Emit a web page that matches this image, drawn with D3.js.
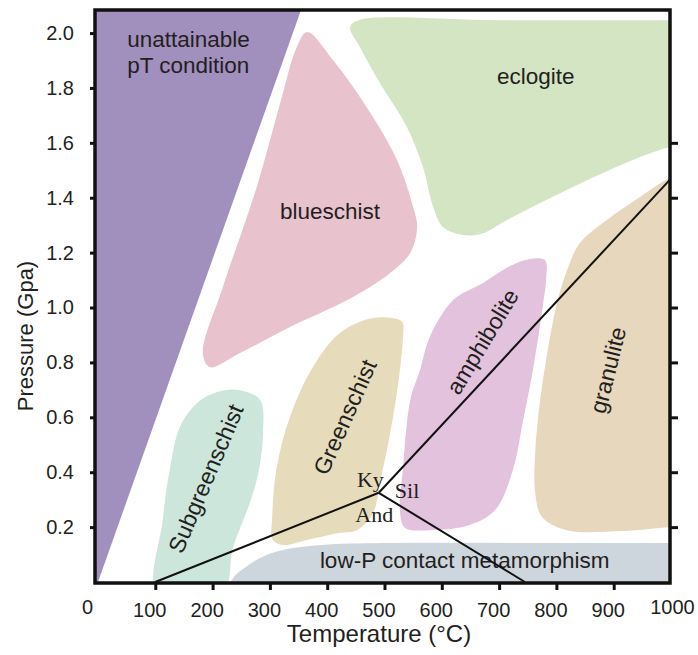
<!DOCTYPE html>
<html>
<head>
<meta charset="utf-8">
<script src="https://cdn.jsdelivr.net/npm/d3@7"></script>
<style>
  body { margin: 0; background: #fff; }
  svg { display: block; font-family: "Liberation Sans", Arial, sans-serif; }
</style>
</head>
<body>
<svg id="chart" width="698" height="655"></svg>
<script>
// axis ticks
const tempTicks = [0, 100, 200, 300, 400, 500, 600, 700, 800, 900, 1000]
const pressureTicks = [0.2, 0.4, 0.6, 0.8, 1.0, 1.2, 1.4, 1.6, 1.8, 2.0]
const rightTicks = [0.2, 0.4, 0.6, 0.8, 1.0, 1.2, 1.4, 1.6]

// facies fields as [T (°C), P (GPa)] outlines
const unattainable = [[-20, -0.1], [-20, 2.3], [374, 2.2], [0, 0]]
const blueschist = [[365, 2.004], [410, 1.902], [469, 1.73], [522, 1.537], [550, 1.366], [557, 1.293],
  [545, 1.199], [510, 1.126], [435, 1.027], [335, 0.929], [248, 0.834], [195, 0.783], [183, 0.834],
  [218, 1.075], [277, 1.439], [318, 1.745], [347, 1.949]]
const eclogite = [[440, 2.022], [455, 2.047], [700, 2.047], [1000, 2.047], [1040, 2.047], [1040, 1.585],
  [1000, 1.585], [946, 1.548], [829, 1.439], [714, 1.319], [672, 1.271], [637, 1.264], [602, 1.293],
  [585, 1.366], [567, 1.512], [539, 1.658], [492, 1.818], [457, 1.949]]
const subgreenschist = [[248, 0.699], [283, 0.663], [288, 0.543], [280, 0.4], [265, 0.288], [236, 0.128],
  [216, -0.05], [103, -0.05], [113, 0.226], [126, 0.419], [143, 0.565], [173, 0.652], [208, 0.692]]
const greenschist = [[527, 0.954], [480, 0.962], [422, 0.907], [375, 0.783], [335, 0.601], [312, 0.419],
  [304, 0.237], [305, 0.153], [323, 0.135], [365, 0.153], [422, 0.179], [452, 0.189], [480, 0.251],
  [492, 0.361], [510, 0.543], [524, 0.725], [532, 0.882], [532, 0.944]]
const amphibolite = [[780, 1.173], [782, 1.1], [777, 1.016], [759, 0.772], [742, 0.59], [724, 0.408],
  [693, 0.262], [649, 0.208], [579, 0.189], [536, 0.197], [527, 0.255], [532, 0.408], [545, 0.663],
  [562, 0.772], [579, 0.893], [620, 1.027], [672, 1.089], [719, 1.151], [754, 1.177]]
const granulite = [[1000, 1.472], [946, 1.403], [888, 1.319], [841, 1.235], [820, 1.144], [801, 1.016],
  [784, 0.834], [771, 0.652], [763, 0.47], [763, 0.324], [775, 0.237], [818, 0.189], [916, 0.186],
  [1000, 0.2], [1040, 0.2], [1040, 1.48]]
const contact = [[225, -0.05], [236, 0.015], [258, 0.055], [290, 0.095], [330, 0.12], [390, 0.135],
  [500, 0.142], [800, 0.142], [900, 0.142], [1000, 0.142], [1040, 0.142], [1040, -0.05]]

// Al2SiO5 reaction lines
const kyAnd = [[100, 0], [490, 0.325]]
const kySil = [[490, 0.325], [1000, 1.47]]
const andSil = [[490, 0.325], [745, 0]]

const svg = d3.select('#chart')
const box = { left: 95, right: 670, top: 10, bottom: 583 }

const x = d3.scaleLinear().domain([0, 1000]).range([98, 671])
const y = d3.scaleLinear().domain([0, 2.084]).range([582, 10])

svg.append('defs').append('clipPath').attr('id', 'plot')
  .append('rect')
  .attr('x', box.left).attr('y', box.top)
  .attr('width', box.right - box.left).attr('height', box.bottom - box.top)

const plot = svg.append('g').attr('clip-path', 'url(#plot)')

const smooth = d3.line().x(d => x(d[0])).y(d => y(d[1])).curve(d3.curveCatmullRomClosed.alpha(0.5))
const straight = d3.line().x(d => x(d[0])).y(d => y(d[1])).curve(d3.curveLinearClosed)

const fields = [
  { pts: unattainable, color: '#a18fbd', line: straight },
  { pts: blueschist, color: '#e8c2cd', line: smooth },
  { pts: eclogite, color: '#d3e5c3', line: smooth },
  { pts: subgreenschist, color: '#cde6db', line: smooth },
  { pts: greenschist, color: '#e6dcbc', line: smooth },
  { pts: amphibolite, color: '#e2c2dc', line: smooth },
  { pts: granulite, color: '#e6d7bd', line: smooth },
  { pts: contact, color: '#cdd5dd', line: smooth }
]
fields.forEach(f => {
  plot.append('path').attr('d', f.line(f.pts)).attr('fill', f.color)
})

// field names
const txt = '#231f20'
const flatLabels = [
  { text: 'unattainable', T: 51, P: 1.949, anchor: 'start' },
  { text: 'pT condition', T: 51, P: 1.854, anchor: 'start' },
  { text: 'blueschist', T: 405, P: 1.322, anchor: 'middle' },
  { text: 'eclogite', T: 764, P: 1.814, anchor: 'middle' },
  { text: 'low-P contact metamorphism', T: 640, P: 0.051, anchor: 'middle' }
]
plot.selectAll('text.flat').data(flatLabels).join('text')
  .attr('class', 'flat')
  .attr('x', d => x(d.T)).attr('y', d => y(d.P))
  .attr('text-anchor', d => d.anchor)
  .attr('font-size', 22.5).attr('fill', txt)
  .text(d => d.text)

const tiltLabels = [
  { text: 'Subgreenschist', T: 188, P: 0.377, angle: -67 },
  { text: 'Greenschist', T: 431, P: 0.601, angle: -66 },
  { text: 'amphibolite', T: 671, P: 0.876, angle: -59 },
  { text: 'granulite', T: 890, P: 0.772, angle: -76 }
]
plot.selectAll('text.tilt').data(tiltLabels).join('text')
  .attr('class', 'tilt')
  .attr('transform', d => `translate(${x(d.T)},${y(d.P)}) rotate(${d.angle})`)
  .attr('text-anchor', 'middle').attr('dy', '0.35em')
  .attr('font-size', 23).attr('fill', txt)
  .text(d => d.text)

// reaction lines
const seg = d3.line().x(d => x(d[0])).y(d => y(d[1]))
;[kyAnd, kySil, andSil].forEach(l => {
  plot.append('path').attr('d', seg(l)).attr('fill', 'none')
    .attr('stroke', '#111').attr('stroke-width', 2)
})

const mineralLabels = [
  { text: 'Ky', T: 452, P: 0.346 },
  { text: 'Sil', T: 518, P: 0.306 },
  { text: 'And', T: 449, P: 0.219 }
]
plot.selectAll('text.min').data(mineralLabels).join('text')
  .attr('class', 'min')
  .attr('x', d => x(d.T)).attr('y', d => y(d.P))
  .attr('font-family', '"Liberation Serif", "Times New Roman", serif')
  .attr('font-size', 22).attr('fill', txt)
  .text(d => d.text)

// frame
svg.append('rect')
  .attr('x', box.left).attr('y', box.top)
  .attr('width', box.right - box.left).attr('height', box.bottom - box.top)
  .attr('fill', 'none').attr('stroke', '#111').attr('stroke-width', 3.5)

// axes
const xAxis = d3.axisBottom(x).tickValues(tempTicks).tickSize(7).tickPadding(13).tickFormat(d3.format('d'))
const gx = svg.append('g').attr('transform', `translate(0,${box.bottom})`).call(xAxis)
gx.select('.domain').remove()
gx.selectAll('.tick').filter(d => d === 0 || d === 1000).select('line').remove()
gx.selectAll('.tick line').attr('stroke', '#111').attr('stroke-width', 3)
gx.selectAll('.tick text')
  .attr('font-size', 20).attr('fill', txt)
  .attr('font-family', '"Liberation Sans", Arial, sans-serif')
  .attr('dx', d => d === 0 ? -11 : d === 1000 ? 1 : -6)
  .attr('dy', d => d === 0 || d === 1000 ? '0.55em' : '0.71em')

const yAxis = d3.axisLeft(y).tickValues(pressureTicks).tickSize(5).tickPadding(16).tickFormat(d3.format('.1f'))
const gy = svg.append('g').attr('transform', `translate(${box.left},0)`).call(yAxis)
gy.select('.domain').remove()
gy.selectAll('.tick line').attr('stroke', '#111').attr('stroke-width', 3)
gy.selectAll('.tick text')
  .attr('font-size', 20).attr('fill', txt)
  .attr('font-family', '"Liberation Sans", Arial, sans-serif')

const yRight = d3.axisRight(y).tickValues(rightTicks).tickSize(8).tickFormat('')
const gr = svg.append('g').attr('transform', `translate(${box.right},0)`).call(yRight)
gr.select('.domain').remove()
gr.selectAll('.tick line').attr('stroke', '#111').attr('stroke-width', 3)

// axis titles
svg.append('text')
  .attr('x', 379).attr('y', 642)
  .attr('text-anchor', 'middle').attr('font-size', 24).attr('fill', txt)
  .text('Temperature (°C)')

svg.append('text')
  .attr('transform', 'translate(33,336) rotate(-90)')
  .attr('text-anchor', 'middle').attr('font-size', 22).attr('fill', txt)
  .text('Pressure (Gpa)')
</script>
</body>
</html>
